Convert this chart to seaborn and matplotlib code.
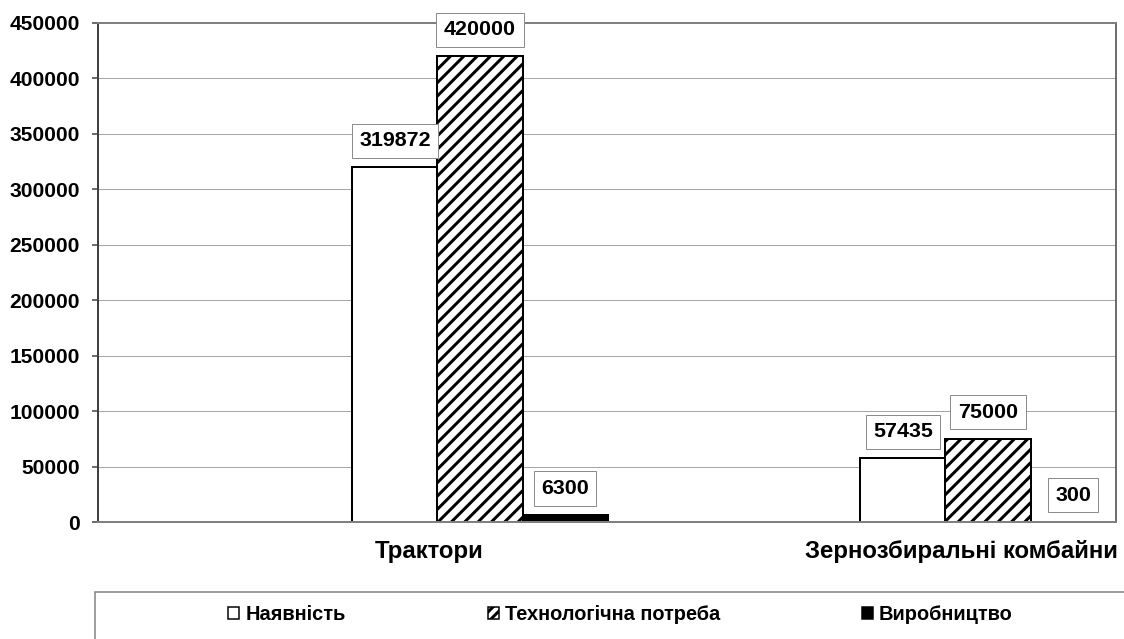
import numpy as np
import pandas as pd
import seaborn as sns
import matplotlib.pyplot as plt
from matplotlib.patches import Patch, Rectangle

# дані з діаграми
categories = ["Трактори", "Зернозбиральні комбайни"]
series = ["Наявність", "Технологічна потреба", "Виробництво"]
availability = [319872, 57435]
need = [420000, 75000]
production = [6300, 300]
yticks = list(range(0, 450001, 50000))

df = pd.DataFrame({
    "category": categories * 3,
    "series": [series[0]] * 2 + [series[1]] * 2 + [series[2]] * 2,
    "value": availability + need + production,
})

DPI = 120
W, H = 1124, 639


def pt(px):
    # пікселі -> пункти
    return px * 72 / DPI


sns.set_style("white")
plt.rcParams["font.family"] = ["Liberation Sans", "DejaVu Sans"]
plt.rcParams["font.weight"] = "bold"
plt.rcParams["text.color"] = "black"
plt.rcParams["xtick.color"] = "black"
plt.rcParams["ytick.color"] = "black"
plt.rcParams["hatch.linewidth"] = pt(3)

fig = plt.figure(figsize=(W / DPI, H / DPI), dpi=DPI)
ax = fig.add_axes([98 / W, 1 - 522 / H, (1116 - 98) / W, (522 - 23) / H])

sns.barplot(data=df, x="category", y="value", hue="series",
            order=categories, hue_order=series,
            palette=["white", "white", "black"], saturation=1,
            width=0.502, edgecolor="black", linewidth=pt(2),
            legend=False, ax=ax)

for bar in ax.containers[1]:
    bar.set_hatch("///")

# підписи значень
for cont, vals in zip(ax.containers, [availability, need, production]):
    for bar, v in zip(cont, vals):
        ax.annotate(str(v), (bar.get_x() + bar.get_width() / 2, bar.get_height()),
                    xytext=(0, 17), textcoords="offset pixels",
                    ha="center", va="bottom", fontsize=pt(21.5), fontweight="bold",
                    color="black",
                    bbox=dict(boxstyle="square,pad=0.35", fc="white",
                              ec="#8c8c8c", lw=pt(1)))

ax.set_xlim((98 - 480) / 508, (1116 - 480) / 508)
ax.set_ylim(0, 450000)
ax.set_yticks(yticks)
ax.set_yticklabels([str(t) for t in yticks])
ax.set_xticks([-0.1, 0.947])
ax.set_xticklabels(categories)
ax.set_xlabel("")
ax.set_ylabel("")

ax.yaxis.grid(True, color="#a6a6a6", lw=pt(1))
ax.set_axisbelow(True)
ax.tick_params(axis="y", left=True, length=pt(6), width=pt(1.5), color="#404040",
               labelcolor="black", labelsize=pt(21), pad=pt(12))
ax.tick_params(axis="x", length=0, labelcolor="black", labelsize=pt(24), pad=pt(18))

ax.spines["left"].set_color("#404040")
ax.spines["left"].set_linewidth(pt(2))
ax.spines["top"].set_color("#808080")
ax.spines["top"].set_linewidth(pt(2))
ax.spines["right"].set_color("#404040")
ax.spines["right"].set_linewidth(pt(1.5))
ax.spines["bottom"].set_color("#808080")
ax.spines["bottom"].set_linewidth(pt(2))

# легенда
handles = [Patch(fc="white", ec="black", lw=pt(1.5)),
           Patch(fc="white", ec="black", lw=pt(1.5), hatch="////"),
           Patch(fc="black", ec="black", lw=pt(1.5))]
fig.legend(handles, series, loc="center", bbox_to_anchor=(0.552, 1 - 615 / H),
           ncol=3, frameon=False, fontsize=pt(20), handlelength=0.55,
           handleheight=0.55, handletextpad=0.3, columnspacing=7.1,
           labelcolor="black")
fig.patches.append(Rectangle((95 / W, -0.1), 1, 0.1 + 1 - 592 / H,
                             transform=fig.transFigure, fill=False,
                             ec="#808080", lw=pt(1.5)))

fig.savefig("out.png", dpi=DPI)
